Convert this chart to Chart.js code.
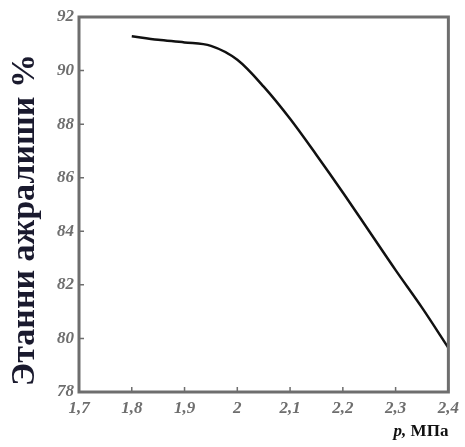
<!DOCTYPE html>
<html lang="uz">
<head>
  <meta charset="UTF-8">
  <title>Этанни ажралиши</title>
  <script src="https://cdn.jsdelivr.net/npm/chart.js"></script>
  <style>
    body, html { margin: 0; padding: 0; background: #fff; }
    #wrap { width: 465px; height: 447px; }
  </style>
</head>
<body>
  <div id="wrap"><canvas id="grafik"></canvas></div>
  <script>
    // bosim, MPa va ajralish, %
    const bosim = [1.80, 1.85, 1.90, 1.95, 2.00, 2.05, 2.10, 2.15, 2.20, 2.25, 2.30, 2.35, 2.40];
    const ajralish = [91.28, 91.15, 91.05, 90.92, 90.4, 89.4, 88.2, 86.85, 85.45, 84.0, 82.55, 81.15, 79.65];
    const yNomi = "Этанни ажралиши %";
    const xBirlik = "МПа";

    const serif = "'Liberation Serif', 'DejaVu Serif', serif";
    const kulrang = "#6e6e6e";

    const ramka = {
      id: "ramka",
      afterDraw(chart) {
        const { ctx, chartArea: a, scales } = chart;
        ctx.save();
        ctx.strokeStyle = kulrang;
        ctx.lineWidth = 3;
        ctx.strokeRect(a.left, a.top, a.right - a.left, a.bottom - a.top);
        // ichki chiziqchalar
        ctx.lineWidth = 1.5;
        ctx.beginPath();
        scales.x.ticks.forEach(t => {
          const px = scales.x.getPixelForValue(t.value);
          ctx.moveTo(px, a.bottom);
          ctx.lineTo(px, a.bottom - 5);
        });
        scales.y.ticks.forEach(t => {
          const py = scales.y.getPixelForValue(t.value);
          ctx.moveTo(a.left, py);
          ctx.lineTo(a.left + 5, py);
        });
        ctx.stroke();
        // o'q nomlari
        ctx.fillStyle = "#111";
        ctx.textBaseline = "middle";
        ctx.textAlign = "right";
        ctx.font = "bold 17px " + serif;
        ctx.fillText(xBirlik, a.right, 432);
        const w = ctx.measureText(xBirlik).width;
        ctx.font = "italic bold 17px " + serif;
        ctx.fillText("p, ", a.right - w, 432);
        ctx.save();
        ctx.translate(25, 220);
        ctx.rotate(-Math.PI / 2);
        ctx.textAlign = "center";
        ctx.font = "bold 34px " + serif;
        ctx.fillStyle = "#1a1a2e";
        ctx.fillText(yNomi, 0, 0);
        ctx.restore();
        ctx.restore();
      }
    };

    new Chart(document.getElementById("grafik"), {
      type: "line",
      data: {
        datasets: [{
          data: bosim.map((p, i) => ({ x: p, y: ajralish[i] })),
          borderColor: "#111",
          borderWidth: 2.5,
          pointRadius: 0,
          fill: false,
          cubicInterpolationMode: "monotone"
        }]
      },
      options: {
        responsive: true,
        maintainAspectRatio: false,
        animation: false,
        layout: { padding: { left: 0, right: 11, top: 17, bottom: 0 } },
        plugins: { legend: { display: false }, tooltip: { enabled: false } },
        scales: {
          x: {
            type: "linear",
            min: 1.7, max: 2.4,
            afterFit(s) { s.height = 55; },
            grid: { display: false, drawTicks: false },
            border: { display: false },
            ticks: {
              stepSize: 0.1,
              padding: 6,
              color: kulrang,
              font: { family: serif, size: 17, style: "italic", weight: "bold" },
              callback: v => Number(v.toFixed(1)).toString().replace(".", ",")
            }
          },
          y: {
            min: 78, max: 92,
            afterFit(s) { s.width = 79; },
            grid: { display: false, drawTicks: false },
            border: { display: false },
            ticks: {
              stepSize: 2,
              padding: 5,
              color: kulrang,
              font: { family: serif, size: 17, style: "italic", weight: "bold" }
            }
          }
        }
      },
      plugins: [ramka]
    });
  </script>
</body>
</html>
